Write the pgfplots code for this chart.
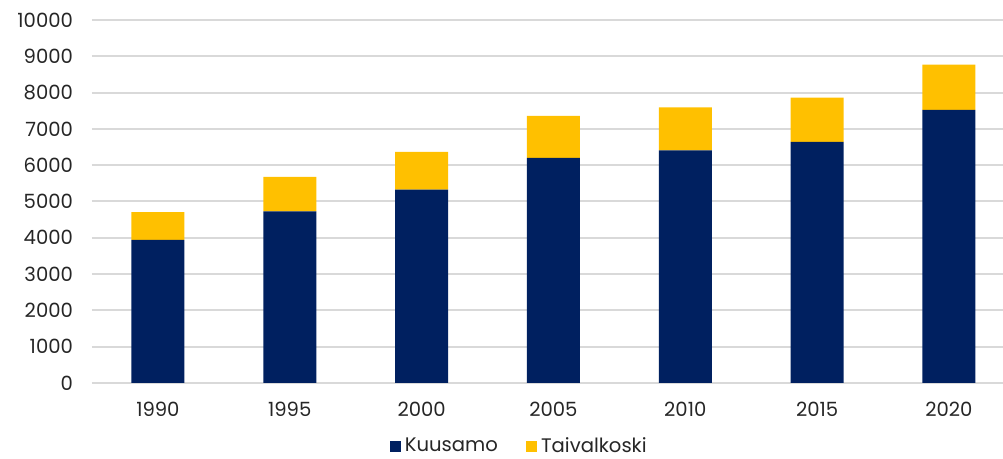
\documentclass[border=0pt]{standalone}
\usepackage{pgfplots}
\pgfplotsset{compat=1.18}
\usepackage{fontspec}
\setmainfont{Poppins}
\definecolor{navy}{HTML}{002060}
\definecolor{gold}{HTML}{FFC000}
\definecolor{gridgray}{HTML}{D9D9D9}
\definecolor{txt}{HTML}{262626}
\begin{document}
\begin{tikzpicture}
\begin{axis}[
  scale only axis,
  width=455.5pt, height=181.5pt,
  ybar stacked, bar width=26.5pt,
  xmin=-0.5, xmax=6.41,
  ymin=0, ymax=10000,
  scaled y ticks=false,
  xtick=data,
  xticklabels={1990,1995,2000,2005,2010,2015,2020},
  ytick={0,1000,...,10000},
  ymajorgrids,
  grid style={gridgray, line width=1pt},
  axis line style={draw=none},
  major tick length=0pt,
  tick label style={font=\fontsize{9.8}{11}\selectfont, text=txt},
  yticklabel style={xshift=-6pt},
  xticklabel style={yshift=-6pt},
  /pgf/number format/1000 sep={},
  /pgf/number format/assume math mode=true,
  legend style={draw=none, at={(0.47,-0.175)}, anchor=center,
    font=\fontsize{9.8}{11}\selectfont, text=txt,
    /tikz/every even column/.append style={column sep=12pt}},
  legend columns=-1,
  legend image code/.code={\fill[#1] (0pt,-2.8pt) rectangle (5.6pt,2.8pt);},
]
\addplot[fill=navy, draw=none] coordinates {
  (0,3942) (1,4726) (2,5330) (3,6203) (4,6405) (5,6645) (6,7527)};
\addplot[fill=gold, draw=none] coordinates {
  (0,764) (1,954) (2,1039) (3,1158) (4,1186) (5,1213) (6,1241)};
\legend{Kuusamo, Taivalkoski}
\coordinate (ll) at (rel axis cs:0,0);
\coordinate (ur) at (rel axis cs:1,1);
\end{axis}
\pgfresetboundingbox
\path[use as bounding box] ([shift={(-46pt,-38pt)}]ll) rectangle ([shift={(0pt,10pt)}]ur);
\end{tikzpicture}
\end{document}
